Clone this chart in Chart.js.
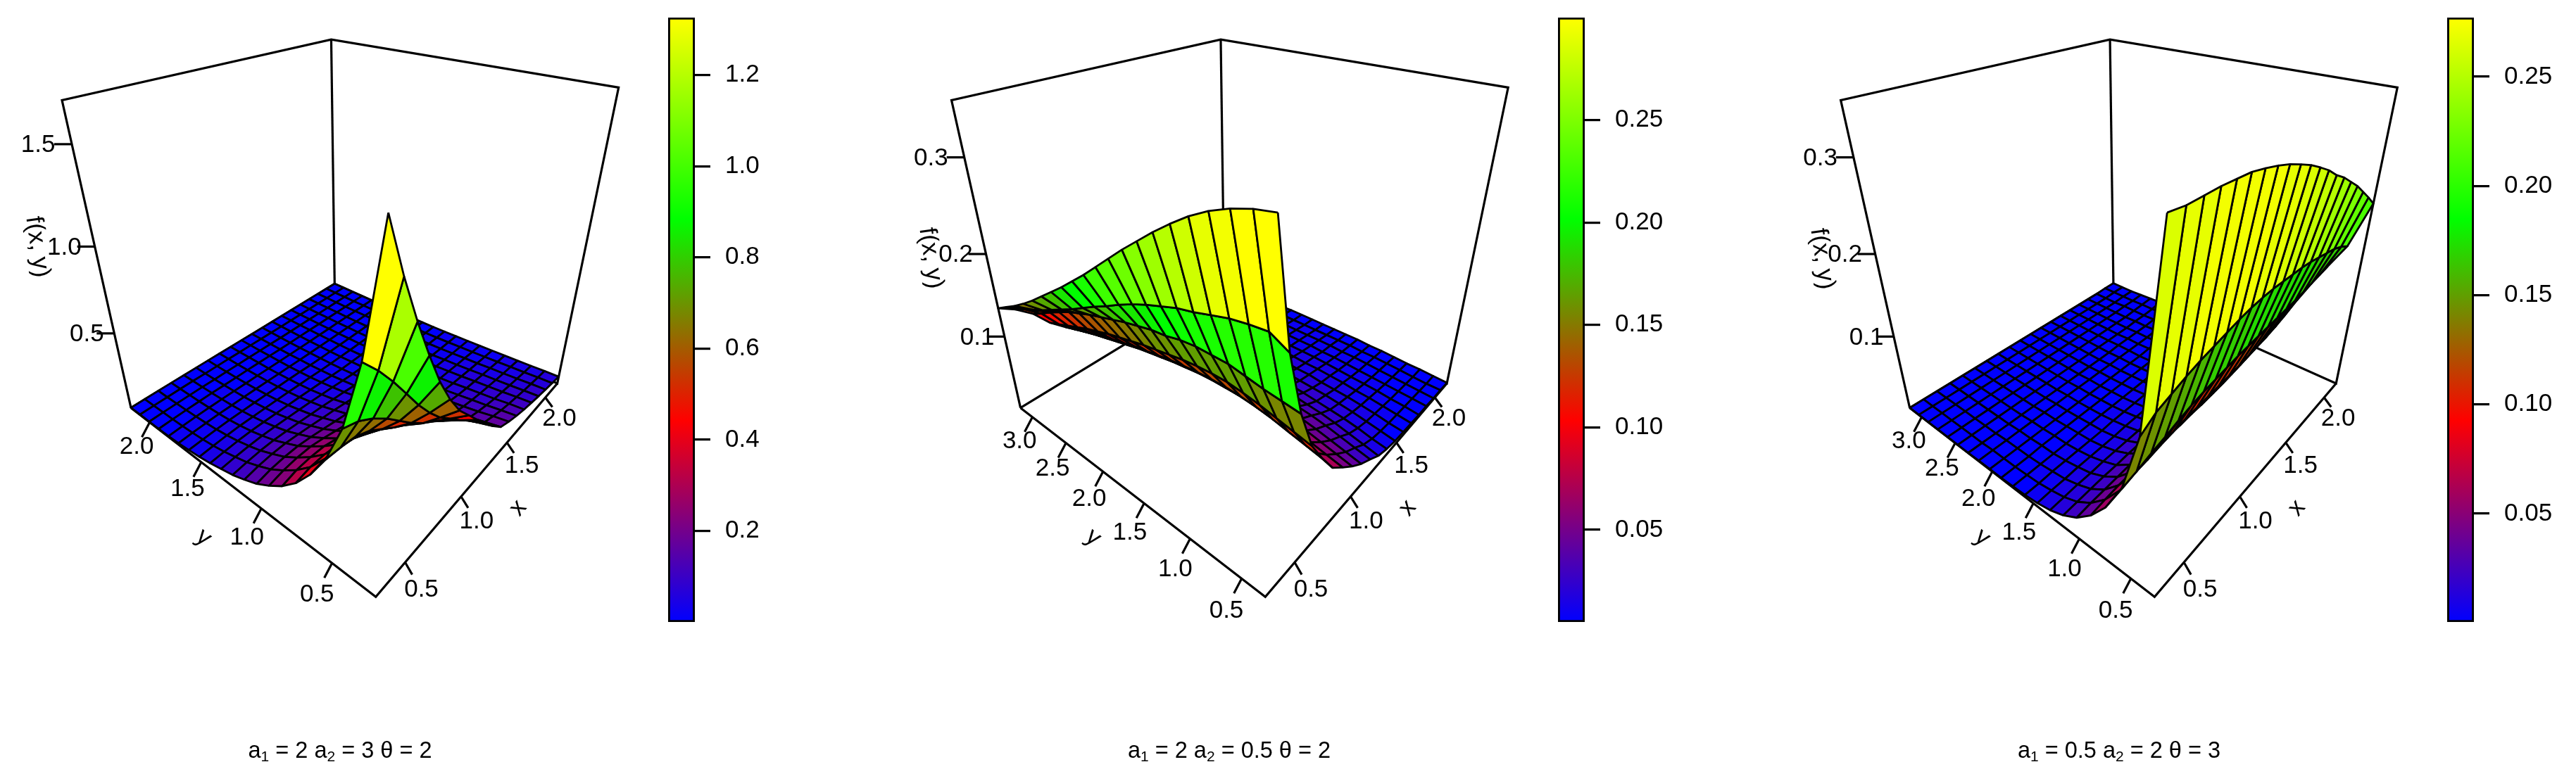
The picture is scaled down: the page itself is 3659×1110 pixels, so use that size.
<!doctype html>
<html><head><meta charset="utf-8">
<style>html,body{margin:0;padding:0;background:#fff;overflow:hidden}canvas{position:absolute;top:0}</style>
<script src="https://cdn.jsdelivr.net/npm/chart.js@4"></script>
</head><body>
<canvas id="main" width="3659" height="1110" style="left:0"></canvas>
<canvas id="cb0" width="175" height="1110" style="left:949px"></canvas>
<canvas id="cb1" width="175" height="1110" style="left:2213px"></canvas>
<canvas id="cb2" width="175" height="1110" style="left:3476px"></canvas>
<script>
// ---------- grids ----------
const xGrid=[.275,.375,.475,.575,.675,.775,.875,.975,1.075,1.175,1.275,1.375,1.475,1.575,1.675,1.775,1.875,1.975,2.075,2.175];
const yGridShort=[.23,.329,.427,.526,.624,.723,.821,.92,1.018,1.117,1.215,1.314,1.412,1.511,1.609,1.708,1.806,1.905,2.003,2.102,2.2];
const yGridLong=[.29,.435,.58,.725,.87,1.015,1.16,1.305,1.45,1.595,1.74,1.885,2.03,2.175,2.32,2.465,2.61,2.755,2.9,3.045,3.19];
// ---------- surface 1: one row per y, one column per x ----------
const surface1ByY=[
[1.69,1.45,1.24,1.05,.875,.73,.61,.52,.43,.35,.262,.19,.16,.135,.115,.10,.085,.072,.06,.05],
[1.14,1.05,.945,.83,.713,.61,.52,.45,.376,.309,.234,.17,.145,.122,.105,.091,.077,.066,.055,.046],
[.80,.771,.721,.656,.579,.503,.436,.382,.321,.266,.203,.149,.126,.107,.091,.08,.068,.058,.048,.04],
[.59,.585,.573,.537,.481,.425,.373,.33,.28,.233,.178,.131,.111,.095,.081,.071,.06,.051,.043,.035],
[.45,.466,.46,.44,.40,.357,.316,.282,.24,.20,.155,.114,.097,.082,.071,.062,.053,.045,.037,.031],
[.34,.359,.361,.35,.322,.29,.259,.232,.198,.166,.128,.095,.081,.069,.059,.052,.044,.037,.031,.026],
[.26,.282,.288,.284,.263,.238,.215,.193,.166,.139,.108,.08,.068,.058,.05,.044,.037,.032,.026,.022],
[.20,.219,.227,.226,.211,.192,.173,.156,.135,.114,.088,.066,.056,.048,.041,.036,.031,.026,.022,.018],
[.15,.167,.174,.174,.164,.15,.136,.123,.106,.089,.07,.052,.044,.038,.032,.028,.024,.02,.017,.014],
[.115,.129,.136,.136,.128,.118,.107,.097,.084,.071,.055,.041,.035,.03,.026,.022,.019,.016,.013,.011],
[.085,.095,.101,.102,.096,.089,.081,.073,.063,.054,.042,.031,.027,.023,.019,.017,.014,.012,.01,.008],
[.065,.072,.076,.077,.073,.068,.062,.056,.048,.041,.032,.024,.02,.017,.015,.013,.011,.009,.008,.006],
[.045,.051,.055,.056,.053,.049,.045,.041,.035,.03,.023,.017,.015,.013,.011,.009,.008,.007,.006,.005],
[.03,.035,.039,.04,.038,.036,.033,.03,.026,.022,.017,.013,.011,.009,.008,.007,.006,.005,.004,.003],
[.02,.024,.027,.028,.027,.026,.024,.021,.019,.016,.012,.009,.008,.007,.006,.005,.004,.004,.003,.002],
[.012,.016,.019,.02,.019,.018,.017,.015,.013,.011,.009,.007,.006,.005,.004,.004,.003,.003,.002,.002],
[.007,.011,.013,.014,.014,.013,.012,.011,.009,.008,.006,.005,.004,.004,.003,.003,.002,.002,.002,.001],
[.004,.007,.009,.01,.01,.009,.008,.008,.007,.006,.004,.003,.003,.003,.002,.002,.002,.001,.001,.001],
[.003,.005,.006,.007,.007,.006,.006,.005,.005,.004,.003,.002,.002,.002,.002,.001,.001,.001,.001,.001],
[.002,.003,.004,.005,.005,.004,.004,.004,.003,.003,.002,.002,.001,.001,.001,.001,.001,.001,.001,.001],
[.001,.002,.003,.003,.003,.003,.003,.003,.002,.002,.001,.001,.001,.001,.001,.001,.001,.001,.001,.001]];
// ---------- surface 2: one row per x, one column per y ----------
const surface2ByX=[
[.352,.349,.344,.337,.328,.317,.305,.292,.279,.265,.251,.237,.224,.211,.199,.187,.175,.164,.154,.145,.136],
[.243,.252,.250,.247,.242,.237,.233,.227,.221,.214,.206,.197,.189,.180,.171,.163,.155,.147,.140,.133,.125],
[.176,.178,.180,.183,.186,.186,.186,.184,.180,.178,.174,.170,.165,.160,.155,.149,.143,.135,.127,.118,.110],
[.129,.133,.137,.141,.144,.146,.146,.145,.143,.140,.137,.134,.130,.126,.122,.117,.112,.106,.100,.094,.088],
[.100,.104,.108,.112,.115,.117,.118,.118,.117,.115,.113,.110,.107,.104,.100,.096,.092,.087,.082,.077,.072],
[.074,.080,.085,.089,.092,.095,.096,.096,.096,.095,.093,.091,.088,.085,.082,.078,.074,.070,.066,.062,.058],
[.059,.063,.067,.071,.074,.076,.078,.079,.079,.079,.078,.076,.074,.071,.068,.065,.062,.058,.055,.052,.048],
[.045,.049,.053,.057,.060,.062,.064,.065,.066,.066,.065,.064,.062,.060,.057,.054,.051,.048,.045,.042,.040],
[.033,.037,.041,.045,.048,.050,.052,.054,.055,.055,.055,.054,.052,.050,.048,.045,.043,.040,.038,.035,.033],
[.024,.028,.032,.036,.039,.041,.043,.045,.046,.046,.046,.045,.044,.042,.040,.038,.036,.034,.032,.030,.028],
[.014,.018,.022,.026,.029,.031,.033,.034,.035,.036,.036,.035,.034,.032,.031,.029,.027,.026,.024,.023,.021],
[.009,.012,.016,.019,.021,.023,.025,.026,.027,.027,.027,.027,.026,.025,.024,.022,.021,.020,.018,.017,.016],
[.006,.009,.012,.015,.017,.019,.020,.021,.022,.023,.023,.022,.021,.020,.020,.019,.018,.016,.015,.014,.013],
[.005,.007,.010,.012,.014,.015,.016,.018,.018,.019,.019,.018,.018,.017,.016,.015,.015,.014,.013,.012,.011],
[.004,.006,.008,.010,.011,.013,.014,.015,.015,.016,.016,.015,.015,.014,.014,.013,.012,.011,.011,.010,.009],
[.003,.005,.006,.008,.009,.010,.011,.012,.013,.013,.013,.013,.012,.012,.011,.011,.010,.009,.009,.008,.008],
[.003,.004,.005,.006,.007,.008,.009,.010,.010,.011,.011,.011,.010,.010,.009,.009,.008,.008,.007,.007,.006],
[.002,.003,.004,.005,.006,.007,.008,.008,.009,.009,.009,.009,.009,.008,.008,.007,.007,.006,.006,.006,.005],
[.002,.002,.003,.004,.005,.006,.006,.007,.007,.007,.007,.007,.007,.007,.006,.006,.006,.005,.005,.005,.004],
[.001,.002,.003,.003,.004,.005,.005,.006,.006,.006,.006,.006,.006,.006,.005,.005,.005,.004,.004,.004,.004]];
// ---------- surface 3: one row per x, one column per y ----------
const surface3ByX=[
[.352,.170,.103,.068,.044,.027,.016,.009,.005,.003,.002,.001,.001,.001,0,0,0,0,0,0,0],
[.350,.180,.107,.072,.047,.029,.017,.010,.006,.003,.002,.001,.001,.001,0,0,0,0,0,0,0],
[.350,.185,.112,.076,.049,.030,.018,.011,.006,.004,.002,.001,.001,.001,0,0,0,0,0,0,0],
[.350,.190,.116,.078,.050,.031,.019,.011,.007,.004,.002,.002,.001,.001,0,0,0,0,0,0,0],
[.349,.194,.121,.081,.051,.032,.019,.012,.007,.004,.002,.002,.001,.001,0,0,0,0,0,0,0],
[.348,.197,.125,.083,.052,.032,.020,.012,.007,.004,.003,.002,.001,.001,0,0,0,0,0,0,0],
[.345,.200,.128,.085,.053,.033,.020,.012,.007,.004,.003,.002,.001,.001,0,0,0,0,0,0,0],
[.3415,.203,.130,.086,.053,.033,.020,.012,.008,.005,.003,.002,.001,.001,0,0,0,0,0,0,0],
[.337,.205,.132,.087,.054,.033,.020,.012,.008,.005,.003,.002,.001,.001,0,0,0,0,0,0,0],
[.3315,.206,.134,.088,.054,.033,.020,.012,.008,.005,.003,.002,.001,.001,0,0,0,0,0,0,0],
[.3255,.206,.135,.089,.055,.034,.021,.013,.008,.005,.003,.002,.001,.001,0,0,0,0,0,0,0],
[.318,.205,.136,.090,.056,.035,.022,.014,.009,.005,.003,.002,.001,.001,0,0,0,0,0,0,0],
[.310,.204,.137,.092,.058,.037,.024,.015,.010,.006,.003,.002,.001,.001,0,0,0,0,0,0,0],
[.300,.203,.138,.094,.060,.039,.026,.017,.011,.007,.004,.002,.001,.001,.001,0,0,0,0,0,0],
[.292,.201,.139,.096,.063,.042,.029,.019,.012,.007,.004,.003,.002,.001,.001,0,0,0,0,0,0],
[.282,.198,.140,.099,.067,.046,.032,.021,.013,.008,.005,.003,.002,.001,.001,0,0,0,0,0,0],
[.272,.195,.142,.103,.072,.051,.037,.025,.017,.011,.007,.004,.003,.002,.001,.001,0,0,0,0,0],
[.260,.192,.144,.108,.079,.057,.043,.030,.021,.014,.009,.006,.004,.003,.002,.001,.001,.001,0,0,0],
[.248,.187,.146,.114,.088,.067,.051,.037,.027,.019,.013,.009,.006,.004,.003,.002,.002,.001,.001,.001,.001],
[.235,.180,.148,.122,.100,.080,.062,.047,.035,.026,.019,.014,.010,.007,.005,.004,.003,.002,.001,.001,.001]];
// ---------- axes ----------
const xTicks=[0.5,1,1.5,2];
const yTicksShort=[0.5,1,1.5,2];
const yTicksLong=[0.5,1,1.5,2,2.5,3];
const zTicks1=[0.5,1,1.5];
const zTicks2=[0.1,0.2,0.3];
const zTicks3=[0.1,0.2,0.3];
const barTicks1=[0.2,0.4,0.6,0.8,1,1.2];
const barTicks2=[0.05,0.1,0.15,0.2,0.25];
const barTicks3=[0.05,0.1,0.15,0.2,0.25];
const zRange1=[0,1.69], zRange2=[0,0.352], zRange3=[0,0.352];
const barRange1=[0,1.326], barRange2=[0.005,0.30], barRange3=[0.0004,0.277];
const ramp=[[0,0,255],[255,0,0],[0,255,0],[255,255,0]];
const title1=[['a',0],['1',1],[' = 2 ',0],['a',0],['2',1],[' = 3 ',0],['θ = 2',0]];
const title2=[['a',0],['1',1],[' = 2 ',0],['a',0],['2',1],[' = 0.5 ',0],['θ = 2',0]];
const title3=[['a',0],['1',1],[' = 0.5 ',0],['a',0],['2',1],[' = 2 ',0],['θ = 3',0]];

const transpose=m=>m[0].map((_,c)=>m.map(r=>r[c]));
const panels=[
 {dx:0,     xs:xGrid,ys:yGridShort,z:transpose(surface1ByY),zr:zRange1,bar:barRange1,barTicks:barTicks1,dec:1,xt:xTicks,yt:yTicksShort,zt:zTicks1,title:title1,tc:483,zl:[53,351]},
 {dx:1263.5,xs:xGrid,ys:yGridLong, z:surface2ByX,zr:zRange2,bar:barRange2,barTicks:barTicks2,dec:2,xt:xTicks,yt:yTicksLong, zt:zTicks2,title:title2,tc:1746,zl:[1322,367]},
 {dx:2526.6,xs:xGrid,ys:yGridLong, z:surface3ByX,zr:zRange3,bar:barRange3,barTicks:barTicks3,dec:2,xt:xTicks,yt:yTicksLong, zt:zTicks3,title:title3,tc:3010,zl:[2588,368]}
];
// ---------- camera (view calibration of the unit box) ----------
const anchors=[[0,0,0,533.4,848],[1,0,0,792,545],[0,1,0,186.3,580],[1,1,0,475,403.3],
               [0,0,1,551.7,303.3],[1,0,1,878.5,123.9],[0,1,1,88,141.6],[1,1,1,470.6,56.6]];
function fitCamera(a){
  const A=[],b=[];
  a.forEach(([u,v,w,x,y])=>{
    A.push([u,v,w,1,0,0,0,0,-x*u,-x*v,-x*w]);b.push(x);
    A.push([0,0,0,0,u,v,w,1,-y*u,-y*v,-y*w]);b.push(y);
  });
  const n=11,M=[];
  for(let r=0;r<n;r++){M.push([]);for(let c=0;c<=n;c++){let s=0;
    for(let k=0;k<A.length;k++)s+=A[k][r]*(c<n?A[k][c]:b[k]);M[r].push(s);}}
  for(let c=0;c<n;c++){let p=c;for(let r=c+1;r<n;r++)if(Math.abs(M[r][c])>Math.abs(M[p][c]))p=r;
    [M[c],M[p]]=[M[p],M[c]];
    for(let r=0;r<n;r++)if(r!==c){const f=M[r][c]/M[c][c];for(let k=c;k<=n;k++)M[r][k]-=f*M[c][k];}}
  return M.map((r,i)=>r[n]/r[i]);
}
const P=fitCamera(anchors);
const depth=(u,v,w)=>P[8]*u+P[9]*v+P[10]*w+1;
const project=(u,v,w)=>{const h=depth(u,v,w);return{x:(P[0]*u+P[1]*v+P[2]*w+P[3])/h,y:(P[4]*u+P[5]*v+P[6]*w+P[7])/h};};
const BOX_LW=3.2,CELL_LW=2.8;
function rampColor(t){
  t=Math.max(0,Math.min(1,t));
  const L=63,q=Math.round(t*L)/L*3,k=Math.min(2,Math.floor(q)),f=q-k;
  const c=[0,1,2].map(n=>Math.round(ramp[k][n]+(ramp[k+1][n]-ramp[k][n])*f));
  return `rgb(${c[0]},${c[1]},${c[2]})`;
}
const stroke=(pts)=>({data:pts,showLine:true,fill:false,borderColor:'#000',borderWidth:BOX_LW,pointRadius:0,borderCapStyle:'butt',borderJoinStyle:'miter'});

const backLayer=[],cellLayer=[],frontLayer=[],labels=[];
panels.forEach(p=>{
  const at=(u,v,w)=>{const q=project(u,v,w);return{x:q.x+p.dx,y:q.y};};
  const nx=p.xs.length,ny=p.ys.length;
  const U=x=>(x-p.xs[0])/(p.xs[nx-1]-p.xs[0]);
  const V=y=>(y-p.ys[0])/(p.ys[ny-1]-p.ys[0]);
  const W=z=>(z-p.zr[0])/(p.zr[1]-p.zr[0]);
  backLayer.push(stroke([at(0,1,0),at(0,1,1),at(1,1,1),at(1,0,1),at(1,0,0),at(1,1,0),at(0,1,0)]));
  backLayer.push(stroke([at(1,1,0),at(1,1,1)]));
  const cells=[];
  for(let i=0;i<nx-1;i++)for(let j=0;j<ny-1;j++){
    const u0=U(p.xs[i]),u1=U(p.xs[i+1]),v0=V(p.ys[j]),v1=V(p.ys[j+1]);
    const z=p.z,m=(z[i][j]+z[i+1][j]+z[i][j+1]+z[i+1][j+1])/4;
    cells.push({d:depth((u0+u1)/2,(v0+v1)/2,0),col:rampColor((m-p.bar[0])/(p.bar[1]-p.bar[0])),
      pts:[at(u0,v0,W(z[i][j])),at(u1,v0,W(z[i+1][j])),at(u1,v1,W(z[i+1][j+1])),at(u0,v1,W(z[i][j+1])),at(u0,v0,W(z[i][j]))]});
  }
  cells.sort((a,b)=>b.d-a.d);
  cells.forEach(c=>cellLayer.push({data:c.pts,showLine:true,fill:'shape',backgroundColor:c.col,borderColor:'#000',borderWidth:CELL_LW,pointRadius:0,borderJoinStyle:'round'}));
  frontLayer.push(stroke([at(0,1,0),at(0,0,0),at(1,0,0)]));
  const font='35px "Liberation Sans"';
  p.xt.forEach(t=>{const f=U(t),a=at(f,0,0);frontLayer.push(stroke([a,{x:a.x+10,y:a.y+18-5*f}]));
    labels.push({t:t.toFixed(1),x:a.x+23.5-4*f,y:a.y+40-11*f,font});});
  p.yt.forEach(t=>{const f=V(t),a=at(0,f,0);frontLayer.push(stroke([a,{x:a.x-11,y:a.y+21}]));
    labels.push({t:t.toFixed(1),x:a.x-22+4*f,y:a.y+47-13*f,font});});
  p.zt.forEach(t=>{const f=W(t),a=at(0,1,f);frontLayer.push(stroke([a,{x:a.x-25,y:a.y}]));
    labels.push({t:t.toFixed(1),x:a.x-34.5-15*f,y:a.y+1.5,font});});
  labels.push({t:'x',x:736+p.dx,y:722,font,r:-50});
  labels.push({t:'y',x:289+p.dx,y:764,font,r:38});
  labels.push({t:'f(x, y)',x:p.zl[0],y:p.zl[1],font,r:82});
});
const textPlugin={id:'surfaceText',afterDatasetsDraw(chart){
  const c=chart.ctx;c.save();c.fillStyle='#000';c.textAlign='center';c.textBaseline='middle';
  labels.forEach(l=>{c.save();c.translate(l.x,l.y);if(l.r)c.rotate(l.r*Math.PI/180);c.font=l.font;c.fillText(l.t,0,0);c.restore();});
  c.textAlign='left';c.textBaseline='alphabetic';
  panels.forEach(p=>{
    const big='32.5px "Liberation Sans"',small='21px "Liberation Sans"';
    let w=0;p.title.forEach(([s,sub])=>{c.font=sub?small:big;w+=c.measureText(s).width;});
    let x=p.tc-w/2;p.title.forEach(([s,sub])=>{c.font=sub?small:big;c.fillText(s,x,sub?1082:1077);x+=c.measureText(s).width;});
  });
  c.restore();
}};
new Chart(document.getElementById('main'),{
  type:'scatter',
  data:{datasets:[...backLayer,...cellLayer,...frontLayer].reverse()},
  options:{responsive:false,animation:false,devicePixelRatio:1,events:[],layout:{padding:0},
    plugins:{legend:{display:false},tooltip:{enabled:false},title:{display:false}},
    scales:{x:{type:'linear',min:0,max:3659,display:false},y:{type:'linear',min:0,max:1110,reverse:true,display:false}}},
  plugins:[textPlugin]
});
panels.forEach((p,n)=>{
  new Chart(document.getElementById('cb'+n),{
    type:'bar',
    data:{labels:['f(x, y)'],datasets:[{data:[[p.bar[0],p.bar[1]]],barPercentage:1,categoryPercentage:1,
      borderColor:'#000',borderWidth:3.2,borderSkipped:false,
      backgroundColor(ctx){const a=ctx.chart.chartArea;if(!a)return '#000';
        const g=ctx.chart.ctx.createLinearGradient(0,a.bottom,0,a.top);
        ramp.forEach((c,i)=>g.addColorStop(i/3,`rgb(${c[0]},${c[1]},${c[2]})`));return g;}}]},
    options:{responsive:false,animation:false,devicePixelRatio:1,events:[],
      layout:{padding:{top:25,bottom:226,left:0,right:0}},
      plugins:{legend:{display:false},tooltip:{enabled:false}},
      scales:{
        x:{display:false},
        y:{position:'right',min:p.bar[0],max:p.bar[1],
          afterBuildTicks(s){s.ticks=p.barTicks.map(v=>({value:v}));},
          afterFit(s){s.width=137;s.paddingTop=0;s.paddingBottom=0;},
          border:{display:false},
          grid:{drawOnChartArea:false,drawTicks:true,tickLength:22,color:'#000',tickColor:'#000',lineWidth:3.2},
          ticks:{color:'#000',padding:21,font:{family:'Liberation Sans',size:35},autoSkip:false,
            callback:v=>Number(v).toFixed(p.dec)}}}}
  });
});
</script></body></html>
